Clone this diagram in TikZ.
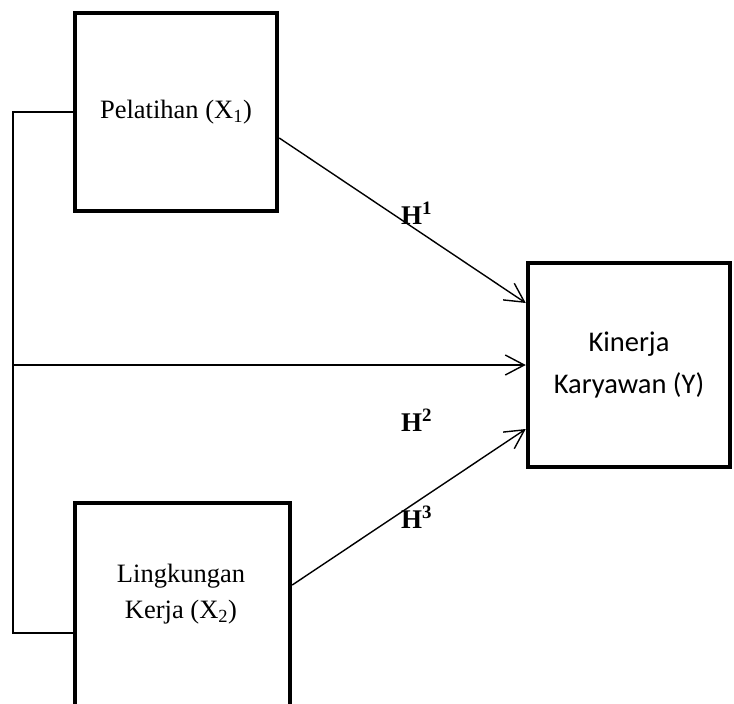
\documentclass[tikz,border=0pt]{standalone}
\usepackage{fontspec}
\setmainfont{Liberation Serif}
\newfontfamily\calib{Carlito}
\usetikzlibrary{arrows.meta,calc}
\begin{document}
\begin{tikzpicture}[x=1pt,y=-1pt,
  box/.style={draw,line width=4.5pt,minimum width=202pt,inner sep=0pt,align=center},
  conn/.style={line width=1.4pt},
  arr/.style={conn,-{Straight Barb[length=19pt,width=20pt,line width=1.4pt]}},
  hlab/.style={anchor=base west,inner sep=0pt,font=\fontsize{27}{30}\selectfont\bfseries}]
\clip (0,0) rectangle (734,704);
\fill[white] (0,0) rectangle (734,704);
\node[box,minimum height=198pt,font=\fontsize{26.5}{36}\selectfont] (p) at (176,112) {Pelatihan (X\textsubscript{1})};
\node[box,minimum height=204pt,font=\calib\fontsize{28.5}{42}\selectfont] (k) at (629,365) {Kinerja\\Karyawan (Y)};
\node[box,minimum width=215pt,minimum height=230pt] (lk) at (182.5,618) {};
\node[inner sep=0pt,align=center,font=\fontsize{26.5}{36}\selectfont] (lkt) at (181,594) {Lingkungan\\Kerja (X\textsubscript{2})};
\coordinate (c1) at (13,112);
\coordinate (c2) at (13,633);
\coordinate (c3) at (13,365);
\draw[conn] (p.west) -- (c1) -- (c2) -- (c2 -| lk.west);
\draw[arr] (c3) -- (k.west);
\draw[arr] ($(p.east)+(0,26)$) -- ($(k.west)+(0,-62)$);
\draw[arr] ($(lk.east)+(0,-33)$) -- ($(k.west)+(0,64)$);
\node[hlab] (h1) at (401,224) {H\textsuperscript{1}};
\node[hlab] (h2) at (401,431) {H\textsuperscript{2}};
\node[hlab] (h3) at (401,528) {H\textsuperscript{3}};
\end{tikzpicture}
\end{document}
